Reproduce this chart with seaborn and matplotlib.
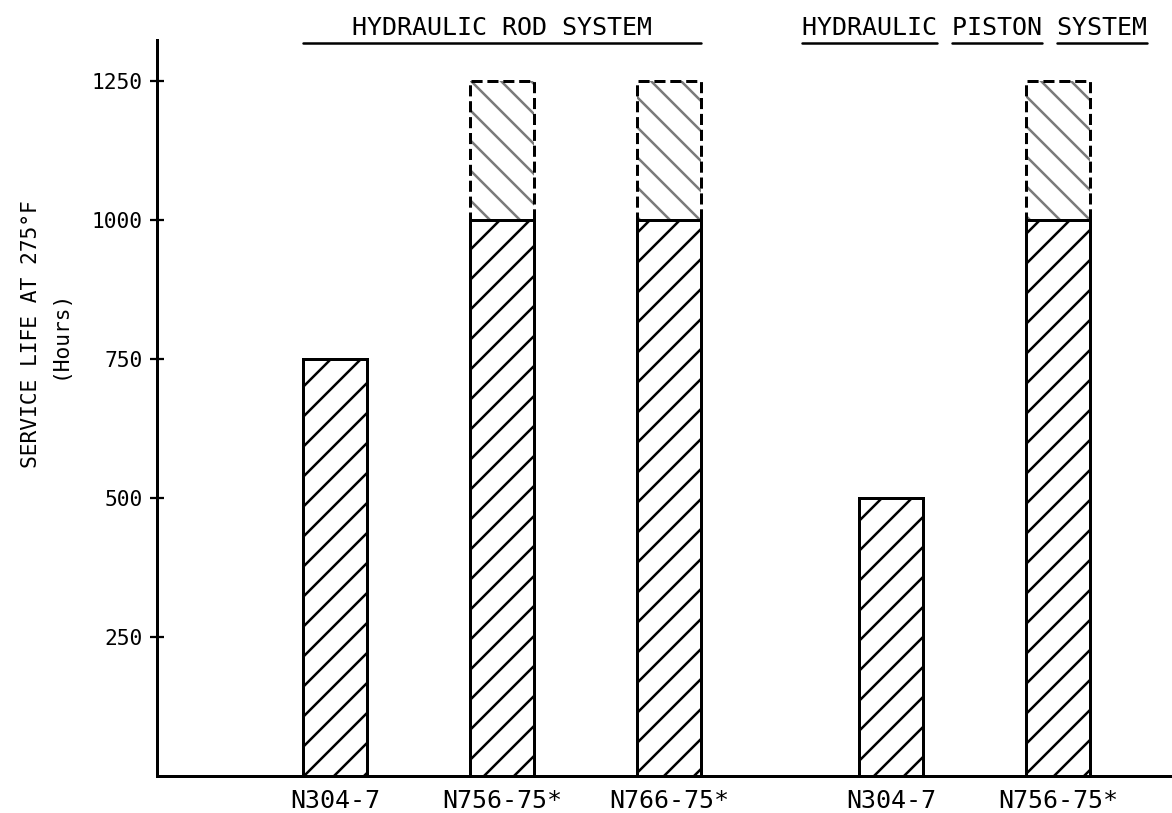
import matplotlib
matplotlib.use("Agg")
import matplotlib.pyplot as plt
import seaborn as sns
import pandas as pd
import numpy as np

# Werte
compounds = ["N304-7", "N756-75*", "N766-75*", "N304-7", "N756-75*"]
systems = ["HYDRAULIC ROD SYSTEM"] * 3 + ["HYDRAULIC PISTON SYSTEM"] * 2
positions = [0, 1, 2, 3.33, 4.33]          # Gruppenabstand zwischen Rod und Piston
service_life = [750, 1000, 1000, 500, 1000]
test_limit = [np.nan, 1250, 1250, np.nan, 1250]   # gestrichelte Verlaengerung
yticks = [250, 500, 750, 1000, 1250]

df = pd.DataFrame({
    "pos": positions,
    "compound": compounds,
    "system": systems,
    "life": service_life,
    "limit": test_limit,
})
ext = df.dropna(subset=["limit"])

sns.set_style("ticks", {"axes.edgecolor": "black", "text.color": "black",
                        "xtick.color": "black", "ytick.color": "black",
                        "axes.labelcolor": "black"})
plt.rcParams["font.family"] = ["DejaVu Sans Mono"]
plt.rcParams["hatch.linewidth"] = 1.0

DPI = 180
BAR_W = 0.38
fig = plt.figure(figsize=(1172 / DPI, 813 / DPI), dpi=DPI)
ax = fig.add_axes([0.134, 0.0455, 0.866, 0.9055])

# Verlaengerung 1000 -> 1250: graue Schraffur + gestrichelter Rahmen
sns.barplot(data=ext, x="pos", y="limit", native_scale=True, width=BAR_W,
            color="white", saturation=1, edgecolor="#7a7a7a", linewidth=0,
            hatch="\\\\", errorbar=None, ax=ax)
sns.barplot(data=ext, x="pos", y="limit", native_scale=True, width=BAR_W,
            color="black", fill=False, linewidth=1.2, linestyle="--",
            errorbar=None, ax=ax)

# eigentliche Lebensdauer
sns.barplot(data=df, x="pos", y="life", native_scale=True, width=BAR_W,
            color="white", saturation=1, edgecolor="black", linewidth=1.2,
            hatch="//", errorbar=None, ax=ax)

ax.set_xlim(-1.066, 5.012)
ax.set_ylim(0, 1324)
ax.set_yticks(yticks)
ax.set_xticks(positions, compounds)
ax.set_xlabel("")
ax.set_ylabel("SERVICE LIFE AT 275°F\n(Hours)", fontsize=8.5, linespacing=1.55)
ax.yaxis.set_label_coords(-0.0857, 0.6)
ax.tick_params(axis="y", direction="inout", length=5.5, width=0.9, pad=3, labelsize=8.5)
ax.tick_params(axis="x", length=0, pad=5, labelsize=10)
sns.despine(ax=ax)
for s in ["left", "bottom"]:
    ax.spines[s].set_linewidth(1.2)

# Gruppenueberschriften
rod_x = np.mean(positions[:3])
pis_x = np.mean(positions[3:])
ax.text(rod_x, 1332, systems[0], ha="center", va="baseline", fontsize=10, clip_on=False)
ax.plot([positions[0] - BAR_W / 2, positions[2] + BAR_W / 2], [1319, 1319],
        color="black", lw=1.0, clip_on=False)
t = ax.text(pis_x, 1332, systems[3], ha="center", va="baseline", fontsize=10, clip_on=False)

# Piston-Ueberschrift wortweise unterstreichen
fig.canvas.draw()
bb = t.get_window_extent().transformed(ax.transData.inverted())
label = systems[3]
cw = (bb.x1 - bb.x0) / len(label)
start = 0
for word in label.split(" "):
    x0 = bb.x0 + start * cw
    x1 = x0 + len(word) * cw
    ax.plot([x0, x1], [1319, 1319], color="black", lw=1.0, clip_on=False)
    start += len(word) + 1

fig.savefig("out.png", dpi=DPI)
